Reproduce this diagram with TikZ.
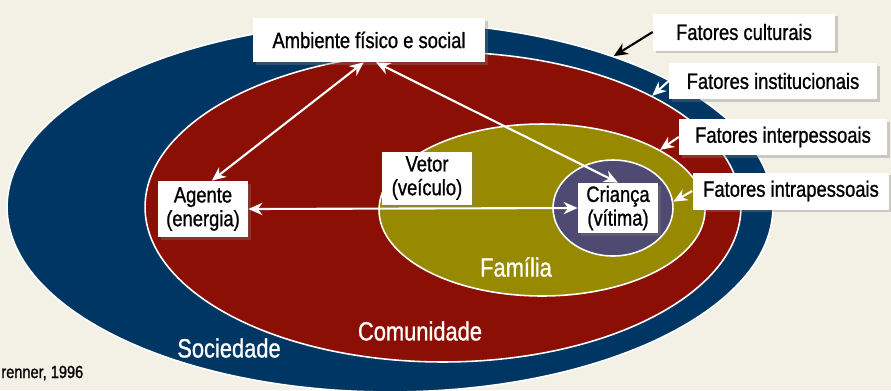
\documentclass[tikz,border=0pt]{standalone}
\usepackage{fontspec}
\setmainfont[FakeStretch=0.83,FakeBold=1]{Liberation Sans}
\usetikzlibrary{shapes.geometric,shadows,arrows.meta}
\definecolor{bgbeige}{RGB}{243,241,229}
\definecolor{socblue}{RGB}{0,54,99}
\definecolor{comred}{RGB}{139,15,4}
\definecolor{famolive}{RGB}{151,137,0}
\definecolor{cripurple}{RGB}{79,74,114}
\tikzset{
	ring/.style={ellipse,draw=white,line width=0.9pt,inner sep=0pt},
	ringlbl/.style={text=white,font=\fontsize{15}{16}\selectfont},
	fbox/.style={fill=white,align=center,inner sep=0pt,font=\fontsize{12.6}{13.5}\selectfont,
		drop shadow={shadow xshift=1.5pt,shadow yshift=-1.5pt,opacity=0.35}},
	warrow/.style={draw=white,line width=1.2pt,-{Stealth[length=8pt,width=7pt]}},
	wdarrow/.style={draw=white,line width=1.2pt,{Stealth[length=8pt,width=7pt]}-{Stealth[length=8pt,width=7pt]}},
	barrow/.style={draw=black,line width=1.2pt,-{Stealth[length=8pt,width=7pt]}}
}
\begin{document}
\begin{tikzpicture}[x=0.02cm,y=-0.02cm]
		\fill[bgbeige] (0,0) rectangle (891,390);
		\clip (0,0) rectangle (891,390);
		
		% rings
		\node[ring,fill=socblue,minimum width=15.32cm,minimum height=7.4cm] (soc) at (390,207) {};
		\node[ring,fill=comred,minimum width=11.92cm,minimum height=6.2cm] (com) at (443,207) {};
		\node[ring,fill=famolive,minimum width=6.52cm,minimum height=3.44cm] (fam) at (542,210) {};
		\node[ring,fill=cripurple,minimum width=2.4cm,minimum height=1.92cm] (cri) at (613,208) {};
		
		\node[ringlbl] (soclbl) at (229,348) {Sociedade};
		\node[ringlbl] (comlbl) at (420,331) {Comunidade};
		\node[ringlbl] (famlbl) at (516,267) {Família};
		
		% boxes
		\node[fbox,minimum width=4.64cm,minimum height=0.88cm] (amb) at (369,40) {Ambiente físico e social};
		\node[fbox,minimum width=1.8cm,minimum height=1.12cm] (age) at (203,209) {Agente\\(energia)};
		\node[fbox,minimum width=1.8cm,minimum height=1.06cm] (vet) at (427,178) {Vetor\\(veículo)};
		\node[fbox,minimum width=1.6cm,minimum height=1.0cm] (crb) at (618,208) {Criança\\(vítima)};
		
		\node[fbox,minimum width=3.64cm,minimum height=0.74cm] (cult) at (744,32) {Fatores culturais};
		\node[fbox,minimum width=4.16cm,minimum height=0.72cm] (inst) at (773,81) {Fatores institucionais};
		\node[fbox,minimum width=4.16cm,minimum height=0.72cm] (inter) at (783,137) {Fatores interpessoais};
		\node[fbox,minimum width=3.94cm,minimum height=0.74cm] (intra) at (791,191) {Fatores intrapessoais};
		
		% arrows
		\draw[wdarrow] ([xshift=-3pt]amb.south) -- ([xshift=5pt]age.north);
		\draw[wdarrow] ([xshift=4pt]amb.south) -- (crb.north);
		\draw[wdarrow] (age.east) -- (crb.west);
		
		\draw[barrow] (cult.west) -- (soc.34);
		\draw[warrow] (inst.west) -- (com.28);
		\draw[warrow] (inter.west) -- (fam.27);
		\draw[warrow] (intra.west) -- (cri.6);
		
		\node[anchor=west,inner sep=0pt,font=\fontsize{10}{12}\selectfont] (src) at (1,373) {renner, 1996};
\end{tikzpicture}
\end{document}
